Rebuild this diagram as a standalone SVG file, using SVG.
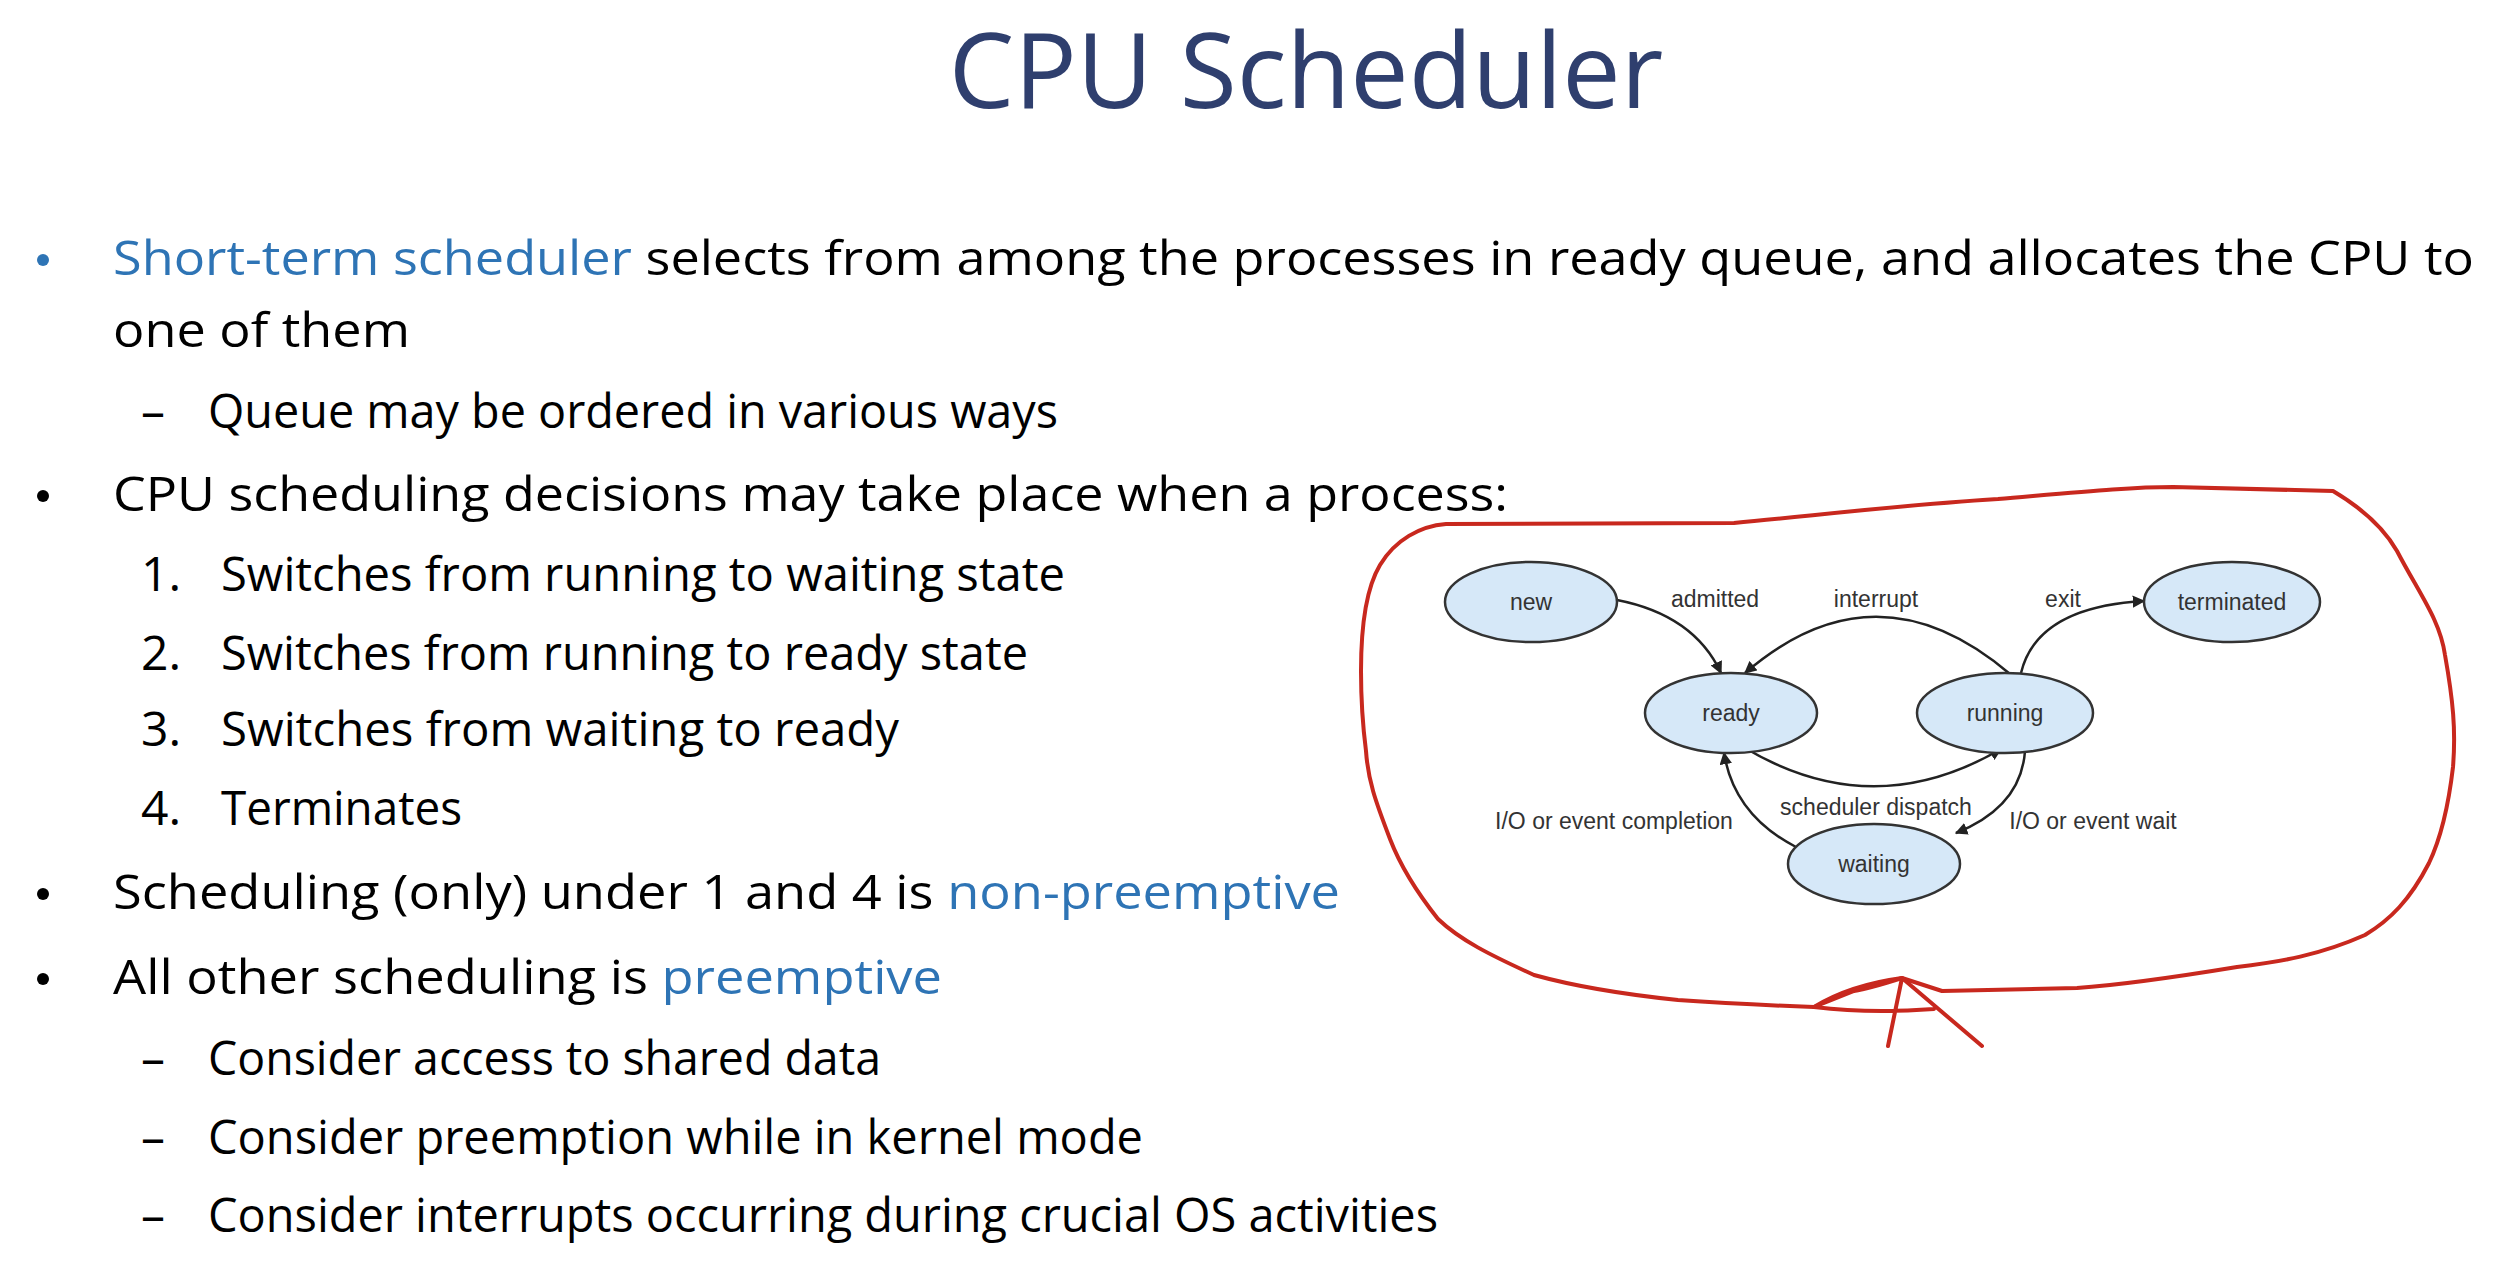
<svg xmlns="http://www.w3.org/2000/svg" width="2506" height="1286" viewBox="0 0 2506 1286">
<defs>
<style>
.t{font-family:"Open Sans","Liberation Sans",sans-serif;font-size:48px;fill:#000}
.b{fill:#2E74B5}
.title{font-family:"Open Sans","Liberation Sans",sans-serif;font-size:104px;fill:#2F3F6E}
.n ellipse{fill:#D6E8F8;stroke:#333;stroke-width:2.5}
.n text,.lbl{font-family:"Liberation Sans",Arial,sans-serif;font-size:23px;fill:#333;text-anchor:middle}
.e{fill:none;stroke:#222;stroke-width:2.5;marker-end:url(#ah)}
.red{fill:none;stroke:#C8281E;stroke-width:4;stroke-linejoin:round;stroke-linecap:round}
</style>
<marker id="ah" viewBox="0 0 10 10" refX="9" refY="5" markerWidth="5" markerHeight="5" orient="auto"><path d="M0,0L10,5L0,10z" fill="#222"/></marker>
</defs>
<rect width="2506" height="1286" fill="#fff"/>
<text class="title" x="1306" y="108" text-anchor="middle">CPU Scheduler</text>
<g id="bullets">
<circle cx="43" cy="260" r="6" fill="#2E74B5"/>
<text class="t" x="113" y="275" textLength="2361" lengthAdjust="spacingAndGlyphs"><tspan class="b">Short-term scheduler</tspan> selects from among the processes in ready queue, and allocates the CPU to</text>
<text class="t" x="113" y="347" textLength="297" lengthAdjust="spacingAndGlyphs">one of them</text>
<text class="t" x="141" y="428">–</text>
<text class="t" x="208" y="428" textLength="850" lengthAdjust="spacingAndGlyphs">Queue may be ordered in various ways</text>
<circle cx="43" cy="496" r="6" fill="#000"/>
<text class="t" x="113" y="511" textLength="1395" lengthAdjust="spacingAndGlyphs">CPU scheduling decisions may take place when a process:</text>
<text class="t" x="141" y="591">1.</text>
<text class="t" x="221" y="591" textLength="844" lengthAdjust="spacingAndGlyphs">Switches from running to waiting state</text>
<text class="t" x="141" y="670">2.</text>
<text class="t" x="221" y="670" textLength="807" lengthAdjust="spacingAndGlyphs">Switches from running to ready state</text>
<text class="t" x="141" y="746">3.</text>
<text class="t" x="221" y="746" textLength="678" lengthAdjust="spacingAndGlyphs">Switches from waiting to ready</text>
<text class="t" x="141" y="825">4.</text>
<text class="t" x="221" y="825" textLength="241" lengthAdjust="spacingAndGlyphs">Terminates</text>
<circle cx="43" cy="894" r="6" fill="#000"/>
<text class="t" x="113" y="909" textLength="1227" lengthAdjust="spacingAndGlyphs">Scheduling (only) under 1 and 4 is <tspan class="b">non-preemptive</tspan></text>
<circle cx="43" cy="979" r="6" fill="#000"/>
<text class="t" x="113" y="994" textLength="829" lengthAdjust="spacingAndGlyphs">All other scheduling is <tspan class="b">preemptive</tspan></text>
<text class="t" x="141" y="1075">–</text>
<text class="t" x="208" y="1075" textLength="673" lengthAdjust="spacingAndGlyphs">Consider access to shared data</text>
<text class="t" x="141" y="1154">–</text>
<text class="t" x="208" y="1154" textLength="935" lengthAdjust="spacingAndGlyphs">Consider preemption while in kernel mode</text>
<text class="t" x="141" y="1232">–</text>
<text class="t" x="208" y="1232" textLength="1230" lengthAdjust="spacingAndGlyphs">Consider interrupts occurring during crucial OS activities</text>
</g>
<g id="connectors">
<path class="e" d="M1617,600 Q1694,615 1721,673"/>
<path class="e" d="M2010,674 Q1876,560 1745,673"/>
<path class="e" d="M2021,673 Q2037,607 2144,601"/>
<path class="e" d="M1745,748 Q1873,824 2001,749"/>
<path class="e" d="M2025,751 Q2021,807 1956,833"/>
<path class="e" d="M1796,847 Q1734,815 1724,753"/>
<text class="lbl" x="1715" y="607">admitted</text>
<text class="lbl" x="1876" y="607">interrupt</text>
<text class="lbl" x="2063" y="607">exit</text>
<text class="lbl" x="1876" y="815">scheduler dispatch</text>
<text class="lbl" x="1614" y="829">I/O or event completion</text>
<text class="lbl" x="2093" y="829">I/O or event wait</text>
</g>
<g id="new" class="n"><ellipse cx="1531" cy="602" rx="86" ry="40"/><text x="1531" y="610">new</text></g>
<g id="terminated" class="n"><ellipse cx="2232" cy="602" rx="88" ry="40"/><text x="2232" y="610">terminated</text></g>
<g id="ready" class="n"><ellipse cx="1731" cy="713" rx="86" ry="40"/><text x="1731" y="721">ready</text></g>
<g id="running" class="n"><ellipse cx="2005" cy="713" rx="88" ry="40"/><text x="2005" y="721">running</text></g>
<g id="waiting" class="n"><ellipse cx="1874" cy="864" rx="86" ry="40"/><text x="1874" y="872">waiting</text></g>
<g id="annotation">
<path class="red" d="M1361,671 C1361,630 1365,590 1380,565 C1395,540 1420,526 1446,524 L1734,523 C1820,515 1900,505 1998,499 C2080,492 2130,487 2173,487 L2333,491 C2365,510 2385,530 2397,551 C2420,595 2440,620 2445,655 C2453,700 2456,730 2453,767 C2448,810 2440,840 2429,863 C2410,900 2390,920 2365,935 C2320,955 2280,962 2237,967 C2170,978 2120,985 2077,988 L1942,991 L1902,978 C1880,985 1860,990 1854,991 L1814,1007 C1760,1005 1720,1003 1678,1000 C1620,994 1570,985 1534,975 C1490,955 1460,940 1438,919 C1415,890 1400,865 1390,839 C1375,800 1368,780 1366,751 C1362,720 1361,700 1361,671"/>
<path class="red" d="M1814,1007 Q1850,985 1902,978 M1902,978 L1888,1046 M1902,978 L1982,1046 M1814,1007 Q1870,1014 1934,1009"/>
</g>
</svg>
